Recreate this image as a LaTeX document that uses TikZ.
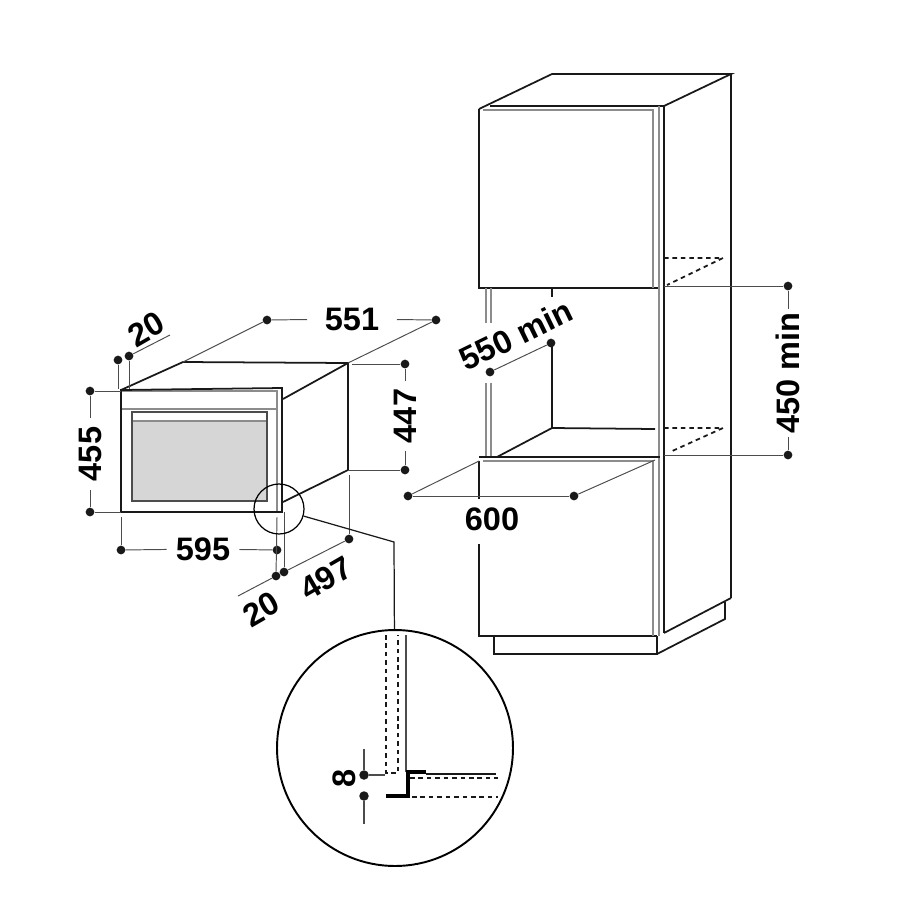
\documentclass[tikz,border=0pt]{standalone}
\usepackage{fontspec}
\setmainfont{Liberation Sans}
\usepackage{xcolor}
\usetikzlibrary{positioning}

\begin{document}
\begin{tikzpicture}[
        x=0.02cm, y=-0.02cm,
        body/.style={line width=1pt, black!90},
        heavy/.style={line width=2.3pt, black},
        inner/.style={line width=1.1pt, black!45},
        hidden/.style={line width=1pt, black!90, dash pattern=on 2.6pt off 2.2pt},
        dimline/.style={line width=0.55pt, black!70},
        dimdot/.style={circle, fill=black!90, inner sep=0pt, minimum size=0.175cm},
        dimtext/.style={font=\bfseries\fontsize{18.5}{19}\selectfont, inner xsep=0.18cm, inner ysep=0pt, text height=0.46cm, text depth=0pt}
    ]
    \useasboundingbox (0,0) rectangle (900,900);

    % built-in unit
    \fill [black!16] (133,422) rectangle (267,500);
    \draw [inner] (121,391) -- (277,391) -- (277,512);
    \draw [inner] (121,409) -- (277,409);
    \draw [inner] (133,421) -- (267,421);
    \draw [body, line width=0.8pt, black!70] (132,412) rectangle (267,501);
    \draw [body] (121,390) -- (282,388) -- (282,512) -- (121,512) -- cycle;
    \coordinate (unitback) at (183,362);
    \coordinate (unitcorner) at (348,363);
    \coordinate (unitlow) at (348,470);
    \draw [body] (121,390) -- (unitback) -- (unitcorner) -- (unitlow) -- (283,502);
    \draw [body] (unitcorner) -- (283,399);

    % tower, top part
    \draw [body] (479,109) -- (552,74) -- (731,74) -- (664,106);
    \draw [body] (490,106) -- (664,106);
    \draw [body] (731,74) -- (731,598);
    \draw [body] (479,109) -- (479,288) -- (658,288);
    \draw [inner] (483,110) -- (653,110) -- (653,288);
    \draw [inner, line width=0.8pt] (659,106) -- (659,636);
    \draw [body] (664,106) -- (664,633);
    \coordinate (topdash) at (723,258);
    \draw [hidden] (664,258) -- (topdash) -- (667,285);

    % cavity
    \draw [inner, line width=0.8pt] (486,288) -- (486,323);
    \draw [inner, line width=0.8pt] (491,288) -- (491,323);
    \draw [inner, line width=0.8pt] (486,383) -- (486,457);
    \draw [inner, line width=0.8pt] (491,383) -- (491,457);
    \draw [body] (552,288) -- (552,297);
    \draw [body] (552,343) -- (552,428) -- (497,457);
    \draw [body] (552,428) -- (655,429);
    \coordinate (lowdash) at (723,428);
    \draw [hidden] (664,428) -- (lowdash) -- (670,452);

    % tower, low part
    \coordinate (lowfront) at (479,461);
    \coordinate (lowright) at (655,460);
    \draw [body, line width=1.4pt] (479,457) -- (660,457);
    \draw [body] (lowfront) -- (479,499);
    \draw [body] (479,544) -- (479,636) -- (657,636);
    \draw [inner] (483,461) -- (653,461);
    \draw [inner] (653,461) -- (653,636);
    \draw [body] (664,633) -- (731,598);
    \draw [body] (494,636) -- (494,654) -- (657,654) -- (657,636);
    \draw [body] (657,654) -- (725,619) -- (725,602);

    % dimension nodes
    \node [dimdot] (d20top) at (118,360) {};
    \node [dimdot] (d20in) at (129,356) {};
    \coordinate (d20end) at (170,335);
    \node [dimtext, rotate=30] (t20top) at (146,329) {20};
    \node [dimdot] (d551a) at (267,320) {};
    \node [dimdot] (d551b) at (436,320) {};
    \node [dimtext, inner xsep=0.35cm] (t551) at (352,319) {551};
    \node [dimdot] (d447a) at (405,364) {};
    \node [dimdot] (d447b) at (405,470) {};
    \node [dimtext, rotate=90, inner xsep=0.16cm] (t447) at (405,416) {447};
    \node [dimdot] (d455a) at (90,391) {};
    \node [dimdot] (d455b) at (90,512) {};
    \node [dimtext, rotate=90] (t455) at (90,454) {455};
    \node [dimdot] (d595a) at (121,550) {};
    \node [dimdot] (d595b) at (277,550) {};
    \node [dimtext] (t595) at (203,549) {595};
    \node [dimdot] (d20low) at (276,576) {};
    \node [dimdot] (d20out) at (284,572) {};
    \coordinate (d20far) at (238,596);
    \node [dimtext, rotate=30, inner xsep=0pt] (t20low) at (261,609) {20};
    \node [dimdot] (d497) at (349,539) {};
    \node [dimtext, rotate=30, inner xsep=0pt] (t497) at (326,578) {497};

    \node [dimdot] (d550a) at (490,372) {};
    \node [dimdot] (d550b) at (551,343) {};
    \node [dimtext, rotate=26, inner xsep=0pt] (t550) at (516,335) {550 min};
    \node [dimdot] (d600a) at (408,496) {};
    \node [dimdot] (d600b) at (574,496) {};
    \node [dimtext] (t600) at (492,519) {600};
    \node [dimdot] (d450a) at (788,286) {};
    \node [dimdot] (d450b) at (788,455) {};
    \node [dimtext, rotate=90, inner xsep=0.06cm] (t450) at (788,373) {450 min};

    % dimension lines
    \draw [dimline] (d20top) -- (118,389);
    \draw [dimline] (d20in) -- (129,389);
    \draw [dimline] (d20in) -- (d20end);
    \draw [dimline] (d551a) -- (t551);
    \draw [dimline] (t551) -- (d551b);
    \draw [dimline] (d551a) -- (unitback);
    \draw [dimline] (d551b) -- (unitcorner);
    \draw [dimline] (d447a) -- (t447);
    \draw [dimline] (t447) -- (d447b);
    \draw [dimline] (d447a) -- (352,364);
    \draw [dimline] (d447b) -- (unitlow);
    \draw [dimline] (d455a) -- (t455);
    \draw [dimline] (t455) -- (d455b);
    \draw [dimline] (d455a) -- (121,391);
    \draw [dimline] (d455b) -- (121,512);
    \draw [dimline] (d595a) -- (t595);
    \draw [dimline] (t595) -- (d595b);
    \draw [dimline] (d595a) -- (121,517);
    \draw [dimline] (d20low) -- (277,517);
    \draw [dimline] (d20out) -- (284,512);
    \draw [dimline] (d20low) -- (d20far);
    \draw [dimline] (d20out) -- (d497);
    \draw [dimline] (d497) -- (349,475);
    \draw [dimline] (d550a) -- (d550b);
    \draw [dimline] (d600a) -- (d600b);
    \draw [dimline] (d600a) -- (lowfront);
    \draw [dimline] (d600b) -- (lowright);
    \draw [dimline] (d450a) -- (t450);
    \draw [dimline] (t450) -- (d450b);
    \draw [dimline] (d450a) -- (664,286);
    \draw [dimline] (d450b) -- (664,455);

    % detail circle and leader
    \node [circle, draw, line width=0.7pt, minimum size=1cm, inner sep=0pt] (spot) at (279,509) {};
    \node [circle, draw, line width=1.1pt, minimum size=4.72cm, inner sep=0pt] (detail) at (395,748) {};
    \coordinate (bend) at (394,542);
    \draw [body, line width=0.7pt] (spot) -- (bend) -- (detail);

    % inside the detail
    \draw [hidden] (386,635) -- (386,773) -- (398,773) -- (398,635);
    \draw [inner, line width=1.1pt, black!70] (406,635) -- (406,772);
    \draw [heavy] (426,772) -- (408,772) -- (408,796) -- (386,796);
    \draw [body] (426,774) -- (496,774);
    \draw [hidden] (410,778) -- (498,778);
    \draw [hidden] (412,797) -- (498,797);
    \node [dimdot, minimum size=0.19cm] (d8a) at (364,775) {};
    \node [dimdot, minimum size=0.19cm] (d8b) at (364,796) {};
    \coordinate (d8top) at (364,749);
    \coordinate (d8low) at (364,824);
    \coordinate (d8side) at (385,775);
    \node [dimtext, rotate=90, inner xsep=0pt] (t8) at (344,778) {8};
    \draw [dimline, line width=0.8pt] (d8a) -- (d8top);
    \draw [dimline, line width=0.8pt] (d8b) -- (d8low);
    \draw [dimline, line width=0.8pt] (d8a) -- (d8side);
\end{tikzpicture}
\end{document}
